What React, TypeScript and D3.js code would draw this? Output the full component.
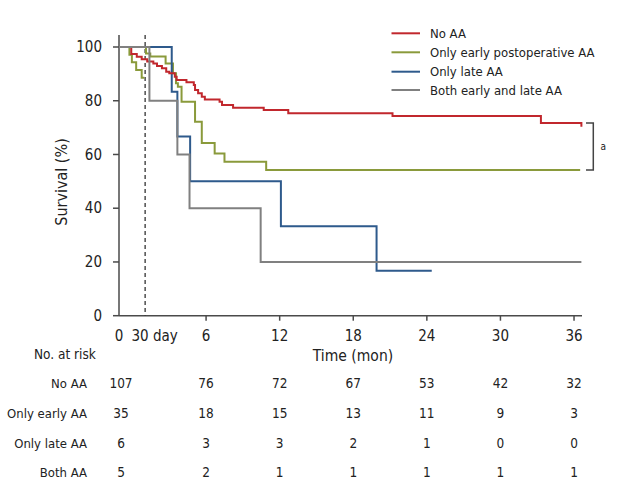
import React, { useEffect, useRef } from "react";
import * as d3 from "d3";

const W = 617;
const H = 490;

const seriesNames = ["No AA", "Only early postoperative AA", "Only late AA", "Both early and late AA"];
const seriesColors = ["#c1272d", "#8a9a3b", "#2e5a8c", "#808080"];

// Step curves: event times (months) and survival after each event (%)
const redTimes = [-0.1, 0.35, 0.75, 1.2, 1.7, 2.0, 2.4, 2.75, 3.0, 3.45, 3.6, 4.4, 5.0, 5.1, 5.35, 5.65, 5.9, 7.1, 7.3, 8.2, 10.7, 12.7, 21.2, 33.3, 36.6];
const redSurv = [97.4, 96.4, 95.4, 94.6, 93.9, 92.9, 92.1, 90.8, 90.2, 88.9, 87.7, 86.9, 85.9, 84.0, 82.8, 81.5, 80.5, 79.6, 78.4, 77.4, 76.6, 75.3, 74.3, 71.7, 70.3];
const redEnd = 36.6;

const greenEarlyTimes = [-0.25, -0.05, 0.3, 0.75];
const greenEarlySurv = [97.1, 94.3, 91.4, 88.6];
const greenEarlyEnd = 0.97;

const greenLateStart = 1.03;
const greenLateTimes = [1.1, 1.45, 2.7, 3.3, 3.55, 3.7, 4.0, 5.1, 5.65, 6.7, 7.5, 10.9];
const greenLateSurv = [97.6, 96.5, 93.9, 90.2, 86.5, 85.2, 79.6, 72.2, 64.3, 60.4, 57.3, 54.2];
const greenLateEnd = 36.5;

const blueTimes = [3.2, 3.66, 4.7, 12.1, 19.9];
const blueSurv = [83.3, 66.7, 50, 33.3, 16.7];
const blueEnd = 24.4;

const grayTimes = [1.38, 3.66, 4.65, 10.45];
const graySurv = [80, 60, 40, 20];
const grayEnd = 36.6;

const xTicks = [6, 12, 18, 24, 30, 36];
const yTicks = [0, 20, 40, 60, 80, 100];
const landmark = 1.03;

const riskRowLabels = ["No AA", "Only early AA", "Only late AA", "Both AA"];
const riskTimes = [0, 6, 12, 18, 24, 30, 36];
const riskNoAA = [107, 76, 72, 67, 53, 42, 32];
const riskEarly = [35, 18, 15, 13, 11, 9, 3];
const riskLate = [6, 3, 3, 2, 1, 0, 0];
const riskBoth = [5, 2, 1, 1, 1, 1, 1];

const FONT = "'Liberation Sans Narrow', 'DejaVu Sans Condensed', 'Liberation Sans', sans-serif";

export default function App() {
  const ref = useRef<SVGSVGElement | null>(null);

  useEffect(() => {
    document.body.style.margin = "0";
    const svg = d3.select(ref.current);
    svg.selectAll("*").remove();

    const xMin = -1.1;
    const x = d3.scaleLinear().domain([xMin, 36.65]).range([119, 582]);
    const y = d3.scaleLinear().domain([0, 100]).range([315.7, 47]);
    const axisColor = "#4a4a4a";

    const stepPath = (start: number, startVal: number, times: number[], surv: number[], end: number) => {
      const pts: [number, number][] = [[start, startVal]];
      let cur = startVal;
      times.forEach((t, i) => {
        pts.push([t, cur]);
        pts.push([t, surv[i]]);
        cur = surv[i];
      });
      if (end > times[times.length - 1]) pts.push([end, cur]);
      return d3.line<[number, number]>().x((d) => x(d[0])).y((d) => y(d[1]))(pts) as string;
    };

    // axes
    svg.append("line").attr("x1", x(xMin)).attr("x2", 582).attr("y1", y(0)).attr("y2", y(0))
      .attr("stroke", axisColor).attr("stroke-width", 1.5);
    svg.append("line").attr("x1", x(xMin)).attr("x2", x(xMin)).attr("y1", 35).attr("y2", y(0))
      .attr("stroke", axisColor).attr("stroke-width", 1.5);

    // y ticks
    yTicks.forEach((v) => {
      svg.append("line").attr("x1", x(xMin) - 6).attr("x2", x(xMin)).attr("y1", y(v)).attr("y2", y(v))
        .attr("stroke", axisColor).attr("stroke-width", 1.5);
      svg.append("text").attr("x", 102).attr("y", y(v)).attr("dy", "0.35em").attr("text-anchor", "end")
        .attr("font-family", FONT).attr("font-size", 15).attr("fill", "#222").text(String(v));
    });

    // x ticks
    xTicks.forEach((v) => {
      svg.append("line").attr("x1", x(v)).attr("x2", x(v)).attr("y1", y(0)).attr("y2", y(0) + 5)
        .attr("stroke", axisColor).attr("stroke-width", 1.5);
      svg.append("text").attr("x", x(v)).attr("y", 341).attr("text-anchor", "middle")
        .attr("font-family", FONT).attr("font-size", 15).attr("fill", "#222").text(String(v));
    });
    svg.append("text").attr("x", x(xMin)).attr("y", 341).attr("text-anchor", "middle")
      .attr("font-family", FONT).attr("font-size", 15).attr("fill", "#222").text("0");
    svg.append("text").attr("x", 131.5).attr("y", 341).attr("text-anchor", "start")
      .attr("font-family", FONT).attr("font-size", 15).attr("fill", "#222").text("30 day");

    // axis titles
    svg.append("text").attr("transform", `translate(67,182) rotate(-90)`).attr("text-anchor", "middle")
      .attr("font-family", FONT).attr("font-size", 16).attr("fill", "#222").text("Survival (%)");
    svg.append("text").attr("x", 353).attr("y", 361).attr("text-anchor", "middle")
      .attr("font-family", FONT).attr("font-size", 15.5).attr("fill", "#222").text("Time (mon)");

    // landmark dashed line
    svg.append("line").attr("x1", x(landmark)).attr("x2", x(landmark)).attr("y1", 35).attr("y2", y(0))
      .attr("stroke", "#333").attr("stroke-width", 1.3).attr("stroke-dasharray", "4,3");

    // curves
    const drawCurve = (d: string, color: string) =>
      svg.append("path").attr("d", d).attr("fill", "none").attr("stroke", color).attr("stroke-width", 2);

    drawCurve(stepPath(xMin, 100, greenEarlyTimes, greenEarlySurv, greenEarlyEnd), seriesColors[1]);
    drawCurve(stepPath(greenLateStart, 100, greenLateTimes, greenLateSurv, greenLateEnd), seriesColors[1]);
    drawCurve(stepPath(xMin, 100, blueTimes, blueSurv, blueEnd), seriesColors[2]);
    drawCurve(stepPath(xMin, 100, redTimes, redSurv, redEnd), seriesColors[0]);
    drawCurve(stepPath(xMin, 100, grayTimes, graySurv, grayEnd), seriesColors[3]);

    // bracket
    const bx = 593.3;
    const bTop = y(redSurv[redSurv.length - 2]);
    const bBot = y(greenLateSurv[greenLateSurv.length - 1]);
    svg.append("path").attr("d", `M586,${bTop}H${bx}V${bBot}H586`).attr("fill", "none")
      .attr("stroke", "#444").attr("stroke-width", 1.5);
    svg.append("text").attr("x", 600.5).attr("y", (bTop + bBot) / 2).attr("dy", "0.35em")
      .attr("font-family", FONT).attr("font-size", 10).attr("fill", "#222").text("a");

    // legend
    const legY = [33.3, 52.3, 71.7, 90];
    seriesNames.forEach((n, i) => {
      svg.append("line").attr("x1", 391.5).attr("x2", 420).attr("y1", legY[i]).attr("y2", legY[i])
        .attr("stroke", seriesColors[i]).attr("stroke-width", 2);
      svg.append("text").attr("x", 430).attr("y", legY[i]).attr("dy", "0.35em")
        .attr("font-family", FONT).attr("font-size", 13).attr("fill", "#222").text(n);
    });

    // risk table
    svg.append("text").attr("x", 34).attr("y", 359).attr("font-family", FONT).attr("font-size", 13.5)
      .attr("fill", "#222").text("No. at risk");
    const rows = [riskNoAA, riskEarly, riskLate, riskBoth];
    const rowY = [383, 413, 443, 472];
    rows.forEach((r, i) => {
      svg.append("text").attr("x", 87).attr("y", rowY[i]).attr("dy", "0.35em").attr("text-anchor", "end")
        .attr("font-family", FONT).attr("font-size", 13).attr("fill", "#222").text(riskRowLabels[i]);
      r.forEach((v, j) => {
        const t = riskTimes[j];
        const px = t === 0 ? x(xMin) + 2 : x(t);
        svg.append("text").attr("x", px).attr("y", rowY[i]).attr("dy", "0.35em").attr("text-anchor", "middle")
          .attr("font-family", FONT).attr("font-size", 13.5).attr("fill", "#222").text(String(v));
      });
    });
  }, []);

  return <svg ref={ref} width={W} height={H} style={{ display: "block", background: "#fff" }} />;
}
